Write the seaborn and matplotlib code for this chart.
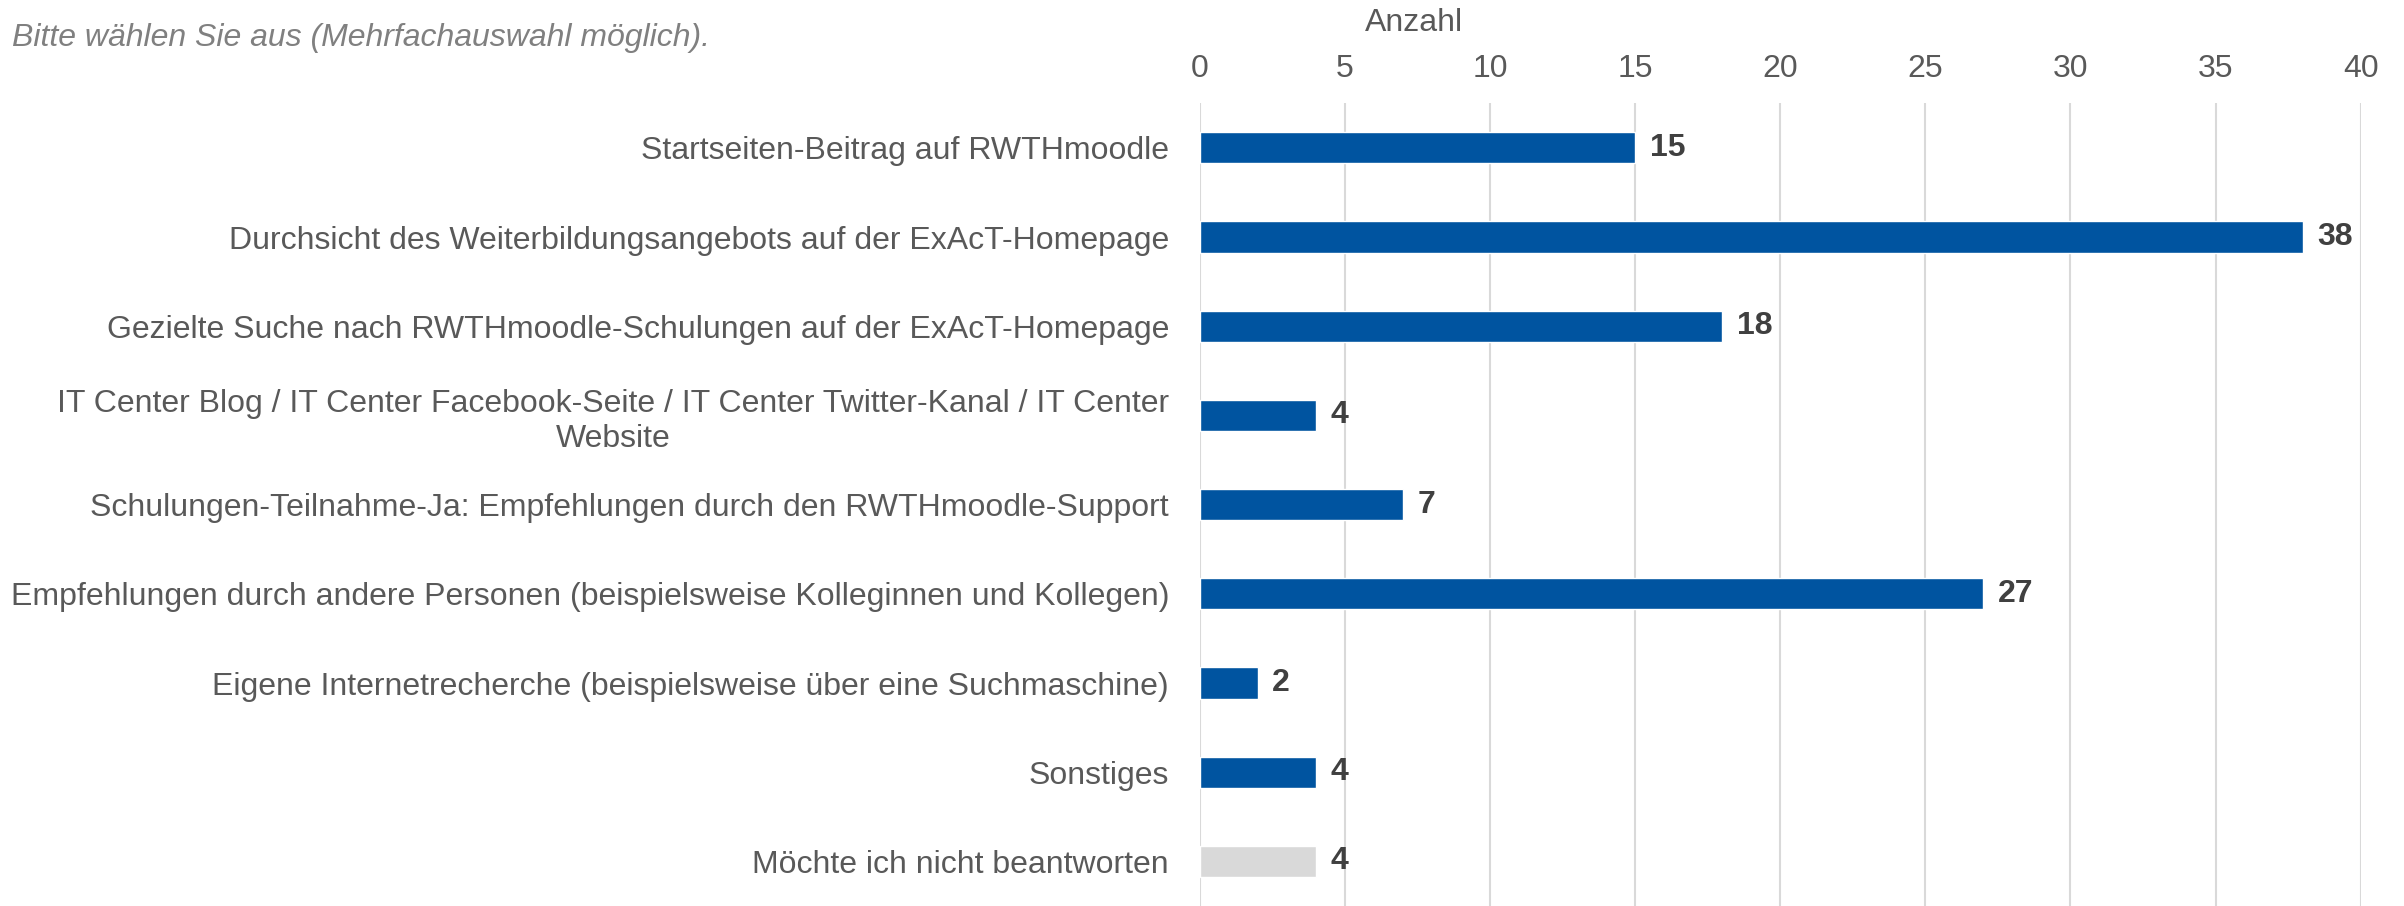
import pandas as pd
import matplotlib.pyplot as plt
import seaborn as sns

#------ data ---------
kategorien = [
    "Startseiten-Beitrag auf RWTHmoodle",
    "Durchsicht des Weiterbildungsangebots auf der ExAcT-Homepage",
    "Gezielte Suche nach RWTHmoodle-Schulungen auf der ExAcT-Homepage",
    "IT Center Blog / IT Center Facebook-Seite / IT Center Twitter-Kanal / IT Center\nWebsite",
    "Schulungen-Teilnahme-Ja: Empfehlungen durch den RWTHmoodle-Support",
    "Empfehlungen durch andere Personen (beispielsweise Kolleginnen und Kollegen)",
    "Eigene Internetrecherche (beispielsweise über eine Suchmaschine)",
    "Sonstiges",
    "Möchte ich nicht beantworten",
]
anzahl = [15, 38, 18, 4, 7, 27, 2, 4, 4]
gruppe = ["a", "a", "a", "a", "a", "a", "a", "a", "b"]

df = pd.DataFrame({"Kategorie": kategorien, "Anzahl": anzahl, "Gruppe": gruppe})

sns.set_style("white")
plt.rcParams['font.family'] = ['Liberation Sans', 'DejaVu Sans']

fig = plt.figure(figsize=(24.04, 9.06), dpi=100)
ax = fig.add_axes([0.499, 0.0, 0.483, 0.886])

sns.barplot(data=df, y="Kategorie", x="Anzahl", hue="Gruppe",
            palette={"a": "#0054A0", "b": "#D9D9D9"}, orient="h", saturation=1,
            width=0.35, dodge=False, legend=False, ax=ax, zorder=3)

ax.set_xlim(0, 40)
ax.set_ylim(8.5, -0.5)
ax.set_xticks(range(0, 41, 5))
ax.xaxis.tick_top()
ax.grid(axis="x", color="#D9D9D9", linewidth=1.5, zorder=0)
ax.set_axisbelow(True)
for s in ax.spines.values():
    s.set_visible(False)
ax.tick_params(axis="x", length=0, pad=14, labelsize=23, labelcolor="#595959")
ax.tick_params(axis="y", length=0, pad=22, labelsize=23, labelcolor="#595959")
for lab in ax.get_yticklabels():
    lab.set_horizontalalignment("right")
    lab.set_multialignment("center")
ax.set_xlabel("")
ax.set_ylabel("")

# Werte an den Balken
for i, v in enumerate(anzahl):
    ax.text(v + 0.5, i, str(v), va="center", ha="left", fontsize=23,
            fontweight="bold", color="#404040")

# Achsentitel oben
fig.text(0.588, 0.975, "Anzahl", ha="center", va="center", fontsize=23, color="#595959")

fig.text(0.005, 0.958, "Bitte wählen Sie aus (Mehrfachauswahl möglich).", ha="left",
         va="center", fontsize=23, style="italic", color="#808080")

fig.savefig("out.png", dpi=100)
